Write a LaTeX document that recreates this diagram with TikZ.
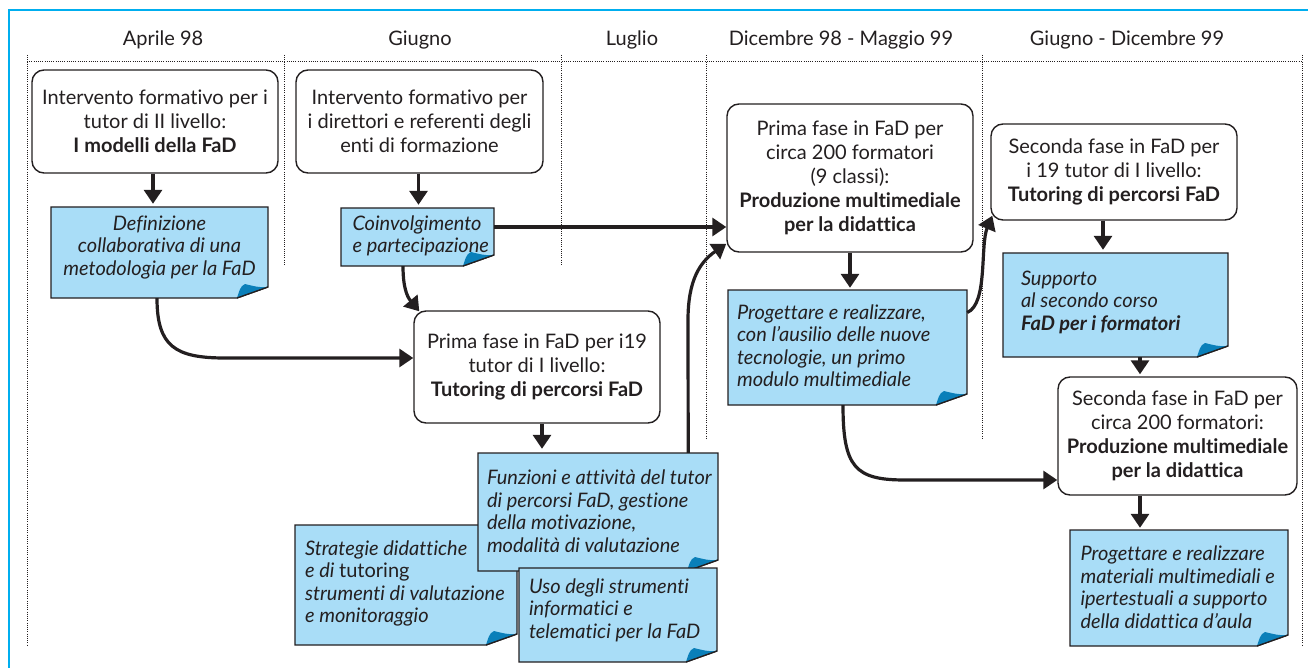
\documentclass[tikz,border=0pt]{standalone}
\usepackage{fontspec}
\setmainfont{Lato}[Ligatures=NoCommon]
\usetikzlibrary{arrows.meta,fit}
\definecolor{ink}{HTML}{231F20}
\definecolor{notefill}{HTML}{A9DDF7}
\definecolor{notecurl}{HTML}{0A7FB9}
\definecolor{framecol}{HTML}{00AEEF}
\tikzset{
  box/.style={draw=ink, line width=1.4pt, rounded corners=12pt, fill=white, align=center, inner sep=0pt, text=ink, font=\fontsize{20}{24}\selectfont},
  notetext/.style={inner sep=0pt, text=ink, align=left, font=\fontsize{20}{22.5}\selectfont\itshape},
  noteshape/.style={draw=ink, line width=1.3pt, fill=notefill, line join=miter},
  arr/.style={draw=ink, line width=3.2pt, -{Triangle[length=14pt,width=18pt]}},
  dots/.style={draw=ink, line width=1pt, dash pattern=on 1pt off 1.2pt},
  hdr/.style={text=ink, font=\fontsize{20}{24}\selectfont, inner sep=0pt},
  framestyle/.style={draw=framecol, line width=2.6pt},
}
\newcommand\fadnote[5]{%
  \draw[noteshape] (#2,#3) -- (#4,#3) -- (#4,#5-11) -- (#4-31,#5) -- (#2,#5) -- cycle;
  \fill[notecurl] (#4-31,#5) .. controls (#4-29,#5-6) and (#4-28,#5-12) .. (#4-23,#5-14) .. controls (#4-15,#5-12) and (#4-8,#5-10) .. (#4,#5-11) -- cycle;
  \draw[ink, line width=1.3pt] (#4,#5-11) -- (#4-31,#5);
  \path (#2,#3) coordinate (#1nw) (#4,#5) coordinate (#1se);
  \node[fit=(#1nw)(#1se), inner sep=0pt] (#1) {};
}
\begin{document}
\begin{tikzpicture}[x=1pt,y=-1pt]
\useasboundingbox (0,0) rectangle (1308,668);
% frame
\draw[framestyle] (9,668) -- (9,10) -- (1308,10);
% dotted grid
\draw[dots] (27,62) -- (1302,62);
\draw[dots] (27,55) -- (27,646);
\draw[dots] (284,55) -- (284,265);
\draw[dots] (561,55) -- (561,265);
\draw[dots] (706,55) -- (706,440);
\draw[dots] (982,55) -- (982,440);
\draw[dots] (1302,55) -- (1302,646);
% headers
\node[hdr] (h1) at (163,40) {Aprile 98};
\node[hdr] (h2) at (420,40) {Giugno};
\node[hdr] (h3) at (632,40) {Luglio};
\node[hdr] (h4) at (841,40) {Dicembre 98 - Maggio 99};
\node[hdr] (h5) at (1127,40) {Giugno - Dicembre 99};
% rounded boxes
\node[box, minimum width=246pt, minimum height=103pt] (b1) at (155,121.5)
  {Intervento formativo per i\\tutor di II livello:\\\textbf{I modelli della FaD}};
\node[box, minimum width=247pt, minimum height=103pt] (b2) at (419.5,121.5)
  {Intervento formativo per\\i direttori e referenti degli\\enti di formazione};
\node[box, minimum width=246pt, minimum height=148pt] (b3) at (850,178)
  {Prima fase in FaD per\\circa 200 formatori\\(9 classi):\\\textbf{Produzione multimediale}\\\textbf{per la didattica}};
\node[box, minimum width=246pt, minimum height=96pt] (b4) at (1114,172)
  {Seconda fase in FaD per\\i 19 tutor di I livello:\\\textbf{Tutoring di percorsi FaD}};
\node[box, minimum width=239pt, minimum height=118pt] (b5) at (1177.5,436)
  {Seconda fase in FaD per\\circa 200 formatori:\\\textbf{Produzione multimediale}\\\textbf{per la didattica}};
\node[box, minimum width=246pt, minimum height=112pt] (b6) at (537,367)
  {Prima fase in FaD per i19\\tutor di I livello:\\\textbf{Tutoring di percorsi FaD}};
% notes
\fadnote{n1}{51}{207}{268}{298}
\node[notetext, align=center] (n1t) at ([yshift=5pt]n1.center) {Definizione\\collaborativa di una\\metodologia per la FaD};
\fadnote{n2}{341}{208}{494}{266}
\node[notetext, anchor=west] (n2t) at ([xshift=11.5pt,yshift=1pt]n2.west) {Coinvolgimento\\e partecipazione};
\fadnote{n3}{728}{290}{967}{405}
\node[notetext, anchor=west] (n3t) at ([xshift=9pt,yshift=2pt]n3.west) {Progettare e realizzare,\\con l’ausilio delle nuove\\tecnologie, un primo\\modulo multimediale};
\fadnote{n4}{1003}{253}{1228}{357}
\node[notetext, anchor=west] (n4t) at ([xshift=18pt,yshift=3pt]n4.west) {Supporto\\al secondo corso\\\textbf{FaD per i formatori}};
\fadnote{n5}{1070}{530}{1288}{646}
\node[notetext, anchor=west] (n5t) at ([xshift=10.5pt,yshift=1pt]n5.west) {Progettare e realizzare\\materiali multimediali e\\ipertestuali a supporto\\della didattica d’aula};
\fadnote{n7}{295}{525}{517}{645}
\node[notetext, anchor=west] (n7t) at ([xshift=10pt,yshift=1.5pt]n7.west) {Strategie didattiche\\e di \textup{tutoring}\\strumenti di valutazione\\e monitoraggio};
\fadnote{n6}{478}{453}{718}{571}
\node[notetext, anchor=west] (n6t) at ([xshift=9pt,yshift=1pt]n6.west) {Funzioni e attività del tutor\\di percorsi FaD, gestione\\della motivazione,\\modalità di valutazione};
\fadnote{n8}{519}{568}{717}{662}
\node[notetext, anchor=west] (n8t) at ([xshift=10pt,yshift=5pt]n8.west) {Uso degli strumenti\\informatici e\\telematici per la FaD};
% straight connectors
\coordinate (col5) at (1140,0);
\coordinate (col6) at (542,0);
\draw[arr, shorten >=3pt] ([xshift=-2pt]b1.south) -- ([xshift=-2pt]b1.south |- n1.north);
\draw[arr, shorten >=3pt] ([xshift=-1pt]b2.south) -- ([xshift=-1pt]b2.south |- n2.north);
\draw[arr, shorten >=2pt] (b3.south) -- (b3.south |- n3.north);
\draw[arr, shorten >=3pt] ([xshift=-11pt]b4.south) -- ([xshift=-11pt]b4.south |- n4.north);
\draw[arr, shorten >=2pt] (n4.south -| col5) -- (b5.north -| col5);
\draw[arr, shorten >=2pt] (b5.south -| col5) -- (n5.north -| col5);
\draw[arr, shorten >=4pt] (b6.south -| col6) -- (n6.north -| col6);
\draw[arr] ([yshift=10pt]n2.east) -- ([yshift=10pt]n2.east -| b3.west);
% curved connectors
\draw[arr] ([xshift=-2.5pt]n1.south) .. controls +(0,48) and +(-50,0) .. (225,358) -- (b6.west |- 0,358);
\draw[arr] ([xshift=-14.5pt]n2.south) .. controls +(0,26) and +(-10,-12) .. ([xshift=6pt,yshift=-1pt]b6.north west);
\draw[arr] ([xshift=-30pt]n6.north east) -- (688,320) .. controls (688,280) and (700,262) .. ([yshift=9pt]b3.south west);
\draw[arr] ([yshift=35pt]n3.east) .. controls (988,304) and (980,245) .. ([xshift=2pt,yshift=5pt]b4.south west);
\draw[arr] ([xshift=-4.5pt]n3.south) .. controls +(0,62) and +(-50,0) .. (905,480) -- (b5.west |- 0,480);
\end{tikzpicture}
\end{document}
